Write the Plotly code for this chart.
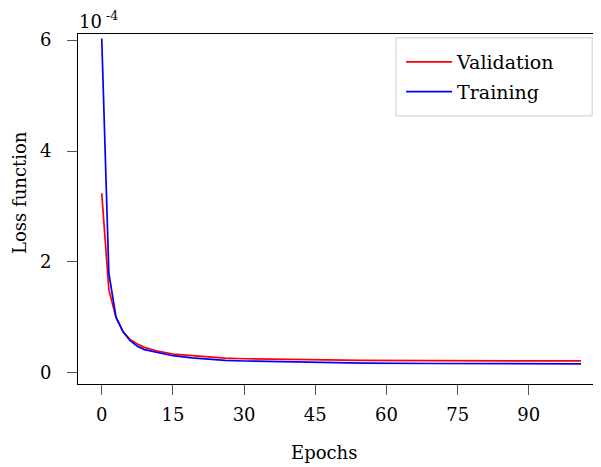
import plotly.graph_objects as go

epochs = [0, 1.5, 3, 4.5, 6, 7.5, 9, 11.5, 15, 19, 26, 30, 40, 55, 70, 85, 101]
# Loss values in units of 1e-4
validation = [3.24, 1.50, 1.00, 0.74, 0.60, 0.52, 0.46, 0.40, 0.34, 0.31, 0.265, 0.255, 0.24, 0.225, 0.22, 0.218, 0.216]
training = [6.03, 1.80, 1.01, 0.74, 0.58, 0.48, 0.42, 0.37, 0.31, 0.27, 0.225, 0.215, 0.20, 0.175, 0.17, 0.165, 0.162]

x_tickvals = [0, 15, 30, 45, 60, 75, 90, 105]
x_ticktext = ["0", "15", "30", "45", "60", "75", "90", ""]
y_tickvals = [0, 2, 4, 6]
y_ticktext = ["0", "2", "4", "6"]

FONT = "DejaVu Serif"

fig = go.Figure()
fig.add_trace(go.Scatter(x=epochs, y=validation, mode="lines", name="Validation",
                         legendgroup="v", line=dict(color="#ff0000", width=1.7)))
fig.add_trace(go.Scatter(x=epochs, y=training, mode="lines", name="Training",
                         legendgroup="t", line=dict(color="#0000ff", width=1.7)))

# The page body has an 8px default margin, so the figure is sized 8px smaller
fig.update_layout(
    template="none",
    width=593, height=459,
    autosize=False,
    margin=dict(l=70, r=1, t=26, b=83, autoexpand=False),
    paper_bgcolor="white", plot_bgcolor="white",
    font=dict(family=FONT, size=18, color="black"),
    showlegend=True,
    legend=dict(x=0.619, y=0.974, xanchor="left", yanchor="top",
                borderwidth=0, bgcolor="rgba(0,0,0,0)",
                itemwidth=46, tracegroupgap=2,
                font=dict(family=FONT, size=19)),
    shapes=[
        dict(type="rect", xref="paper", yref="paper",
             x0=0.609, x1=0.985, y0=0.766, y1=0.989,
             line=dict(color="#cccccc", width=1), fillcolor="white", layer="above"),
    ],
    xaxis=dict(range=[-5, 105], tickvals=x_tickvals, ticktext=x_ticktext,
               ticks="outside", ticklen=10, tickcolor="#555555", tickwidth=1,
               showline=True, mirror=True, linecolor="black", linewidth=1,
               showgrid=False, zeroline=False, ticklabelstandoff=4, automargin=False),
    yaxis=dict(range=[-0.2, 6.11], tickvals=y_tickvals, ticktext=y_ticktext,
               ticks="outside", ticklen=10, tickcolor="#555555", tickwidth=1,
               showline=True, mirror=True, linecolor="black", linewidth=1,
               showgrid=False, zeroline=False, ticklabelstandoff=12, automargin=False),
    annotations=[
        dict(text="Epochs", xref="paper", yref="paper", x=0.471, y=-0.197,
             xanchor="center", yanchor="middle", showarrow=False,
             font=dict(family=FONT, size=18)),
        dict(text="Loss function", xref="paper", yref="paper", x=-0.111, y=0.546,
             xanchor="center", yanchor="middle", textangle=-90, showarrow=False,
             font=dict(family=FONT, size=18)),
        dict(text="10<sup> -4</sup>", xref="paper", yref="paper", x=-0.002, y=1.0,
             xanchor="left", yanchor="bottom", showarrow=False,
             font=dict(family=FONT, size=18)),
    ],
)

fig.write_html("out.html")
